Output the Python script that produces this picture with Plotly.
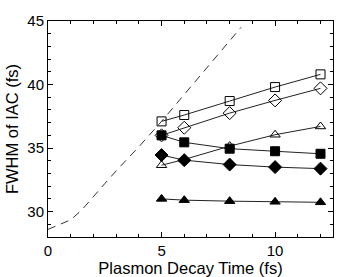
import plotly.graph_objects as go

x_pts = [5, 6, 8, 10, 12]
open_square = [37.1, 37.6, 38.7, 39.8, 40.8]
open_diamond = [36.0, 36.6, 37.75, 38.75, 39.7]
open_triangle = [33.65, 34.1, 35.15, 36.05, 36.7]
filled_square = [36.0, 35.45, 34.95, 34.75, 34.55]
filled_diamond = [34.45, 34.05, 33.7, 33.5, 33.38]
filled_triangle = [31.0, 30.9, 30.82, 30.77, 30.73]

dash_x = [0, 0.5, 1, 1.5, 2, 2.5, 3, 4, 5, 6, 7, 8, 8.5]
dash_y = [28.6, 28.95, 29.35, 30.15, 31.2, 32.2, 33.2, 35.1, 37.1, 39.2, 41.3, 43.4, 44.5]

fig = go.Figure()
fig.add_trace(go.Scatter(x=dash_x, y=dash_y, mode="lines",
                         line=dict(color="#333", width=1, dash="8px,6px"), showlegend=False))

series = [
    (open_square, "square-open"),
    (open_diamond, "diamond-open"),
    (open_triangle, "triangle-up-open"),
    (filled_square, "square"),
    (filled_diamond, "diamond"),
    (filled_triangle, "triangle-up"),
]
for ys, sym in series:
    fig.add_trace(go.Scatter(x=x_pts, y=ys, mode="lines+markers",
                             line=dict(color="#222", width=1),
                             marker=dict(symbol=sym, size=10 if "diamond" in sym else 9,
                                         color="black", line=dict(color="black", width=1)),
                             showlegend=False))

font = "Liberation Sans, Arial"
axis_common = dict(showgrid=False, zeroline=False, showline=True, linecolor="black",
                   linewidth=1, mirror="allticks", ticks="inside", ticklen=5,
                   tickcolor="black", tickfont=dict(family=font, size=15, color="black"))

fig.update_xaxes(range=[0, 12.55], tickvals=[0, 5, 10],
                 minor=dict(ticks="inside", dtick=1, tick0=0, ticklen=3, tickcolor="black"),
                 title=dict(text="Plasmon Decay Time (fs)", standoff=2,
                            font=dict(family=font, size=16.5, color="black")),
                 **axis_common)
fig.update_yaxes(range=[28, 45], tickvals=[30, 35, 40, 45],
                 minor=dict(ticks="inside", dtick=1, tick0=28, ticklen=3, tickcolor="black"),
                 title=dict(text="FWHM of IAC (fs)", standoff=4,
                            font=dict(family=font, size=16.5, color="black")),
                 **axis_common)

fig.update_layout(width=338, height=277, margin=dict(l=48, r=5, t=21, b=40, autoexpand=False),
                  plot_bgcolor="white", paper_bgcolor="white")
fig.write_html("out.html", config={"displayModeBar": False},
               post_script="document.body.style.margin='0';document.body.style.overflow='hidden';")
